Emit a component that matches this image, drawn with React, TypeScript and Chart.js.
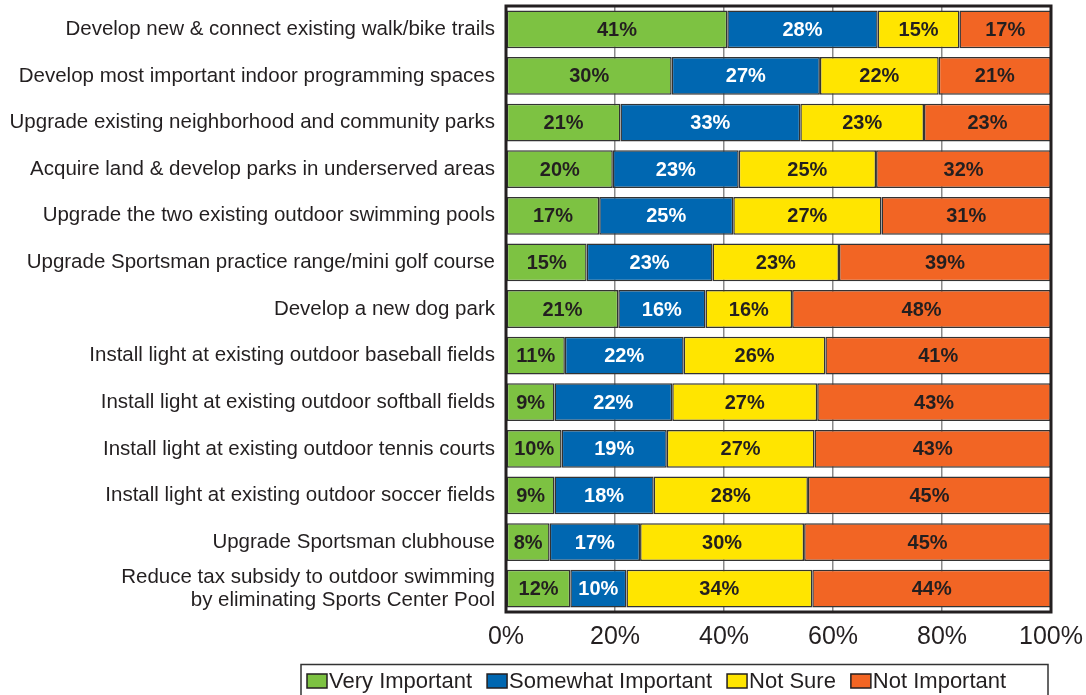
import React, { useEffect, useRef } from "react";
import { Chart, registerables } from "chart.js";

Chart.register(...registerables);

const categories: (string | string[])[] = [
  "Develop new & connect existing walk/bike trails",
  "Develop most important indoor programming spaces",
  "Upgrade existing neighborhood and community parks",
  "Acquire land & develop parks in underserved areas",
  "Upgrade the two existing outdoor swimming pools",
  "Upgrade Sportsman practice range/mini golf course",
  "Develop a new dog park",
  "Install light at existing outdoor baseball fields",
  "Install light at existing outdoor softball fields",
  "Install light at existing outdoor tennis courts",
  "Install light at existing outdoor soccer fields",
  "Upgrade Sportsman clubhouse",
  ["Reduce tax subsidy to outdoor swimming", "by eliminating Sports Center Pool"],
];

const veryImportant = [40.6, 30.4, 21.0, 19.6, 17.1, 14.8, 20.6, 10.8, 8.9, 10.2, 8.9, 8.0, 11.8];
const somewhatImportant = [27.6, 27.2, 33.0, 23.1, 24.6, 23.1, 16.0, 21.8, 21.6, 19.3, 18.2, 16.6, 10.3];
const notSure = [15.0, 21.8, 22.7, 25.2, 27.2, 23.2, 15.9, 26.0, 26.6, 27.1, 28.3, 30.1, 34.1];
const notImportant = [16.8, 20.6, 23.3, 32.1, 31.1, 38.9, 47.5, 41.4, 42.9, 43.4, 44.6, 45.3, 43.8];

const seriesNames = ["Very Important", "Somewhat Important", "Not Sure", "Not Important"];
const seriesColors = ["#7DC242", "#0067B1", "#FFE500", "#F26524"];
const labelColors = ["#231F20", "#FFFFFF", "#231F20", "#231F20"];
const xTicks = [0, 20, 40, 60, 80, 100];

const FONT = "'Liberation Sans', Arial, Helvetica, sans-serif";
const DARK = "#231F20";

const dataLabelPlugin = {
  id: "dataLabels",
  afterDatasetsDraw(chart: any) {
    const ctx = chart.ctx;
    const area = chart.chartArea;
    ctx.save();
    ctx.font = `bold 20px ${FONT}`;
    ctx.textAlign = "center";
    ctx.textBaseline = "middle";
    chart.data.datasets.forEach((ds: any, di: number) => {
      const meta = chart.getDatasetMeta(di);
      meta.data.forEach((el: any, i: number) => {
        const v = ds.data[i];
        const a = Math.max(Math.min(el.x, el.base), area.left);
        const b = Math.min(Math.max(el.x, el.base), area.right);
        ctx.fillStyle = labelColors[di];
        ctx.fillText(Math.round(v) + "%", (a + b) / 2, el.y + 1);
      });
    });
    ctx.restore();
  },
};

const frameLegendPlugin = {
  id: "frameLegend",
  afterDraw(chart: any) {
    const ctx = chart.ctx;
    const a = chart.chartArea;
    ctx.save();
    ctx.strokeStyle = DARK;
    ctx.lineWidth = 3;
    ctx.strokeRect(a.left, a.top, a.right - a.left, a.bottom - a.top);

    ctx.lineWidth = 1.5;
    ctx.strokeStyle = "#333";
    ctx.strokeRect(301, 664.5, 747, 40);
    ctx.font = `22px ${FONT}`;
    ctx.textBaseline = "middle";
    ctx.textAlign = "left";
    let x = 307;
    const cy = 681;
    chart.data.datasets.forEach((ds: any) => {
      ctx.fillStyle = ds.backgroundColor;
      ctx.fillRect(x, cy - 7, 20, 14);
      ctx.strokeStyle = DARK;
      ctx.lineWidth = 1.5;
      ctx.strokeRect(x, cy - 7, 20, 14);
      ctx.fillStyle = DARK;
      ctx.fillText(ds.label, x + 22, cy + 1);
      x += 22 + ctx.measureText(ds.label).width + 15;
    });
    ctx.restore();
  },
};

export default function App() {
  const ref = useRef<HTMLCanvasElement>(null);
  useEffect(() => {
    if (!ref.current) return;
    const series = [veryImportant, somewhatImportant, notSure, notImportant];
    const chart = new Chart(ref.current, {
      type: "bar",
      data: {
        labels: categories,
        datasets: series.map((d, i) => ({
          label: seriesNames[i],
          data: d,
          backgroundColor: seriesColors[i],
          borderColor: "#333333",
          borderWidth: 1.5,
          borderSkipped: false,
          barPercentage: 0.81,
          categoryPercentage: 1,
        })),
      },
      options: {
        indexAxis: "y",
        animation: false,
        responsive: false,
        maintainAspectRatio: false,
        layout: { padding: { top: 6, right: 35, bottom: 46, left: 0 } },
        plugins: {
          legend: { display: false },
          tooltip: { enabled: false },
        },
        scales: {
          x: {
            stacked: true,
            min: 0,
            max: 100,
            afterBuildTicks(scale: any) {
              scale.ticks = xTicks.map((v) => ({ value: v }));
            },
            afterFit(scale: any) {
              scale.height = 37;
              scale.paddingLeft = 0;
              scale.paddingRight = 0;
            },
            ticks: {
              callback: (v: any) => v + "%",
              color: DARK,
              font: { family: FONT, size: 25 },
              padding: 10,
              maxRotation: 0,
              autoSkip: false,
            },
            grid: { color: "#8A8A8A", lineWidth: 1.5, drawTicks: false },
            border: { display: false },
          },
          y: {
            stacked: true,
            afterFit(scale: any) {
              scale.width = 506;
              scale.paddingTop = 0;
              scale.paddingBottom = 0;
            },
            ticks: {
              color: DARK,
              font: { family: FONT, size: 20.5, lineHeight: 1.12 },
              padding: 11,
              autoSkip: false,
            },
            grid: { display: false, drawTicks: false },
            border: { display: false },
          },
        },
      },
      plugins: [dataLabelPlugin, frameLegendPlugin],
    });
    return () => chart.destroy();
  }, []);
  return (
    <div style={{ position: "fixed", left: 0, top: 0, width: 1086, height: 695, background: "#fff" }}>
      <canvas ref={ref} width={1086} height={695} style={{ width: 1086, height: 695 }} />
    </div>
  );
}
